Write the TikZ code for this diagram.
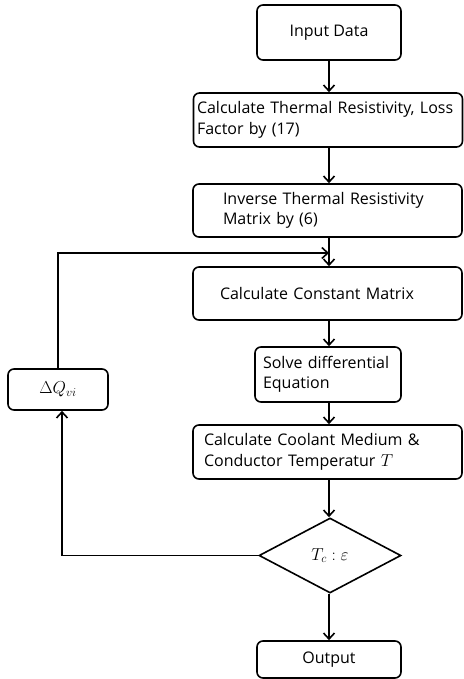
\documentclass[tikz,border=0pt]{standalone}
\usepackage{fontspec}
\setmainfont{Open Sans}
\usetikzlibrary{arrows.meta,shapes.geometric}
\begin{document}
\begin{tikzpicture}[x=1pt,y=-1pt,
  box/.style={draw, line width=1.6pt, rounded corners=6pt, inner sep=0pt,
    font=\fontsize{16}{20.5}\selectfont},
  mathlbl/.style={font=\fontsize{17}{20}\selectfont},
  arr/.style={line width=1.6pt, -{Straight Barb[length=6pt,width=11pt,line width=1.6pt]}}]
\useasboundingbox (0,0) rectangle (463,679);

\node[box, minimum width=144pt, minimum height=55pt] (inp) at (329,32.5) {Input Data};
\node[box, minimum width=269pt, minimum height=54pt, text width=262pt, align=left] (b2) at (328,120)
  {\makebox[262pt][s]{Calculate Thermal Resistivity, Loss}\\Factor by (17)};
\node[box, minimum width=269pt, minimum height=53pt, text width=209pt, align=left] (b3) at (327.5,210.5)
  {Inverse Thermal Resistivity\\Matrix by (6)};
\node[box, minimum width=269pt, minimum height=53pt, text width=215pt, align=left] (b4) at (327.5,293.5)
  {Calculate Constant Matrix};
\node[box, minimum width=146pt, minimum height=55pt, text width=130pt, align=left] (b5) at (328,374.5)
  {Solve differential\\Equation};
\node[box, minimum width=269pt, minimum height=54pt, text width=247pt, align=left] (b6) at (327.5,452)
  {\makebox[237pt][s]{Calculate Coolant Medium \&}\\Conductor Temperatur $T$};
\node[box, mathlbl, minimum width=100pt, minimum height=41pt] (dq) at (58,389.5) {$\Delta Q_{vi}$};
\node[draw, line width=1.6pt, shape=diamond, aspect=1.9, minimum width=142pt, minimum height=75pt,
  inner sep=0pt, mathlbl] (dia) at (330,555.5) {$T_c : \varepsilon$};
\node[box, minimum width=144pt, minimum height=37pt] (out) at (329,659.5) {Output};

\coordinate (j) at (329,253);

\draw[arr] (inp.south) -- (inp.south |- b2.north);
\draw[arr] (inp.south |- b2.south) -- (inp.south |- b3.north);
\draw[arr] (inp.south |- b3.south) -- (inp.south |- b4.north);
\draw[arr] (inp.south |- b4.south) -- (inp.south |- b5.north);
\draw[arr] (inp.south |- b5.south) -- (inp.south |- b6.north);
\draw[arr] (inp.south |- b6.south) -- (inp.south |- dia.north);
\draw[arr] (inp.south |- dia.south) -- (out.north);
\draw[arr] (dia.west) -| ([xshift=4pt]dq.south);
\draw[arr] (dq.north) |- (j);
\end{tikzpicture}
\end{document}
